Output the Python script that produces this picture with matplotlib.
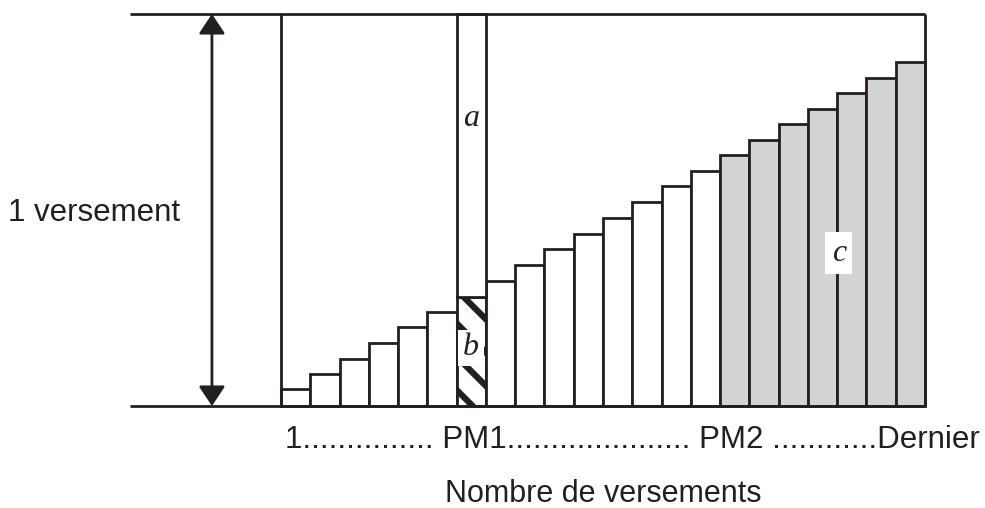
"""Amortissement : part du capital dans chaque versement"""
import matplotlib
matplotlib.use('Agg')
import matplotlib.pyplot as plt
from matplotlib.patches import Rectangle
import numpy as np

plt.rcParams['font.family'] = ['Liberation Sans', 'DejaVu Sans']
plt.rcParams['hatch.linewidth'] = 4.5

# part du capital dans chaque versement (% d'un versement)
capital = [4.3, 8.2, 12.0, 16.1, 20.2, 24.0, 27.8, 31.9, 36.0, 40.1, 43.9,
           48.0, 52.0, 56.1, 59.9, 64.0, 67.9, 71.9, 75.8, 79.8, 83.7, 87.8]
n_versements = len(capital)
pm1 = 6          # index du versement PM1
pm2 = 15         # premier versement de la zone c (PM2 ... Dernier)
versement = 100  # 1 versement = 100 %

tick_text = '1............... PM1..................... PM2 ............Dernier'
ylabel_text = '1 versement'
xlabel_text = 'Nombre de versements'

ink = '#231f20'
gray = '#d1d3d4'

fig = plt.figure(figsize=(9.85, 5.08), dpi=100)
ax = fig.add_axes([0, 0, 1, 1])
ax.set_xlim(-9.6, 24.05)
ax.set_ylim(-26.02, 103.57)
ax.axis('off')

x = np.arange(n_versements)
colors = [gray if i >= pm2 else 'white' for i in x]
bars = ax.bar(x, capital, width=1, align='edge', color=colors,
              edgecolor=ink, linewidth=2, zorder=2)
bars[pm1].set_hatch('\\')

# colonne PM1 prolongée jusqu'à 1 versement (partie a)
ax.bar(pm1, versement - capital[pm1], bottom=capital[pm1], width=1,
       align='edge', color='white', edgecolor=ink, linewidth=2, zorder=2)

# cadre : haut, bas, côtés
ax.hlines([0, versement], -5.15, n_versements, color=ink, linewidth=2, zorder=3)
ax.vlines([0, n_versements], 0, versement, color=ink, linewidth=2, zorder=3)

# flèche double "1 versement"
ax.annotate('', xy=(-2.36, versement), xytext=(-2.36, 0),
            arrowprops=dict(arrowstyle='<|-|>,head_length=0.6,head_width=0.4',
                            mutation_scale=20, color=ink, lw=2,
                            shrinkA=0, shrinkB=0), zorder=3)

# étiquettes a, b, c
serif = dict(family='Liberation Serif', style='italic', fontsize=23, color=ink)
ax.text(pm1 + 0.5, 73.3, 'a', ha='center', va='center', zorder=5, **serif)
ax.add_patch(Rectangle((pm1 + 0.05, 10.2), 0.9, 9.2, facecolor='white',
                       edgecolor='none', zorder=4))
ax.text(pm1 + 0.5, 14.8, 'b', ha='center', va='center', zorder=5, **serif)
ax.text(19.06, 39.0, 'c', ha='center', va='center', zorder=5,
        bbox=dict(boxstyle='square,pad=0.2', fc='white', ec='none'), **serif)

ax.text(-9.31, 47.2, ylabel_text, ha='left', va='baseline',
        fontsize=22.5, color=ink)
ax.text(0.137, -10.7, tick_text, ha='left', va='baseline',
        fontsize=22.5, color=ink)
ax.text(n_versements / 2, -24.6, xlabel_text, ha='center', va='baseline',
        fontsize=22, color=ink)

plt.savefig('out.png', dpi=100)
plt.close(fig)
